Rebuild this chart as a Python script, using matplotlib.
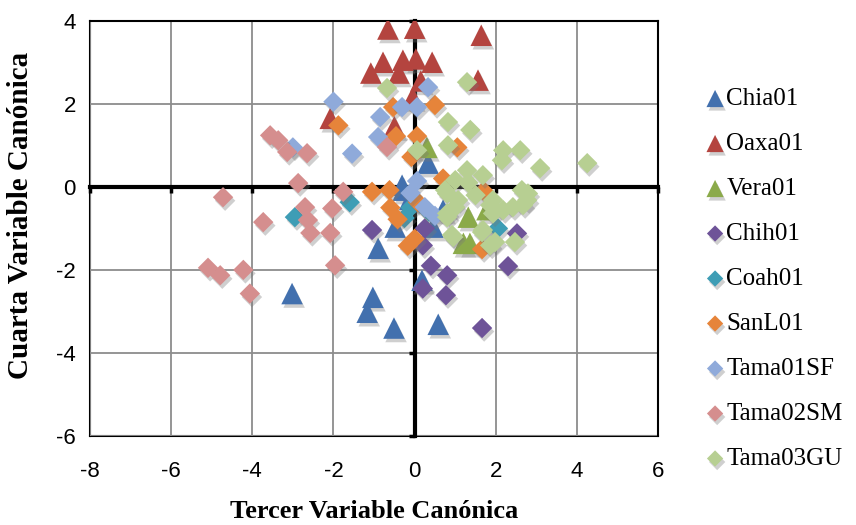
import matplotlib.pyplot as plt
import matplotlib.patheffects as pe

plt.rcParams['axes.unicode_minus'] = False

# canonical scores per population (3rd and 4th canonical variables)
series = ['Chia01', 'Oaxa01', 'Vera01', 'Chih01', 'Coah01', 'SanL01',
          'Tama01SF', 'Tama02SM', 'Tama03GU']

chia_x = [-3.02, -1.03, -1.17, -0.51, -0.9, 0.58, 0.18, -0.28, -0.48, 0.45, 0.33, -0.31, 0.7, -0.12]
chia_y = [-2.57, -2.66, -3.02, -3.4, -1.48, -3.31, -2.25, -0.08, -0.97, -0.97, 0.57, 0.04, -0.56, -0.3]

oaxa_x = [-0.66, 0.0, 1.64, -0.78, -0.29, 0.03, 0.43, -1.08, -0.39, 0.15, 1.56, -2.08, -0.05, -0.5]
oaxa_y = [3.8, 3.82, 3.65, 3.0, 3.05, 3.08, 3.0, 2.74, 2.74, 2.55, 2.57, 1.65, 2.15, 1.45]

vera_x = [0.3, 1.32, 1.36, 1.2, 1.78]
vera_y = [0.95, -0.73, -1.36, -1.36, -0.55]

chih_x = [0.2, 0.4, 0.8, 0.2, 0.77, 1.66, 2.3, 2.52, -1.05, 0.25]
chih_y = [-1.41, -1.9, -2.13, -2.45, -2.61, -3.4, -1.91, -1.12, -1.04, -1.0]

coah_x = [-2.95, -1.6, -0.25, -0.1, 2.05, 0.35]
coah_y = [-0.73, -0.37, -0.75, -0.5, -1.0, -0.6]

sanl_x = [-1.88, -0.53, -0.46, 0.5, 0.06, 1.05, -0.08, 0.7, 1.7, -1.05, -0.62, -0.6,
          -0.42, 0.08, -0.17, 1.66, 0.0]
sanl_y = [1.48, 1.92, 1.22, 1.97, 1.22, 0.95, 0.72, 0.2, -0.1, -0.12, -0.08, -0.5,
          -0.78, -0.37, -1.42, -1.5, -1.25]

t01_x = [-2.0, -1.54, -0.85, -0.31, -0.9, -3.0, 0.33, 0.06, 0.06, 0.25, -0.1, 0.5]
t01_y = [2.05, 0.8, 1.68, 1.92, 1.2, 0.95, 2.4, 1.92, 0.14, -0.49, -0.15, -0.7]

t02_x = [-3.56, -3.36, -3.14, -2.65, -2.87, -4.72, -2.7, -2.03, -1.76, -2.63, -2.57,
         -2.08, -3.73, -5.09, -4.79, -4.22, -4.06, -1.96, -0.68]
t02_y = [1.24, 1.12, 0.84, 0.81, 0.09, -0.25, -0.49, -0.52, -0.12, -0.8, -1.11,
         -1.11, -0.85, -1.95, -2.13, -2.0, -2.57, -1.89, 0.96]

t03_x = [-0.68, 1.29, 0.82, 1.37, 0.82, 0.06, 2.18, 2.6, 2.15, 3.09, 4.25, 1.29, 1.68,
         1.0, 2.64, 2.77, 0.75, 1.07, 1.93, 2.42, 0.8, 1.93, 1.0, 0.92, 1.66, 1.98,
         2.47, 2.67, 2.18, 2.79, 1.86, 0.95, 1.86, 0.8, 0.8, 1.68, 1.32, 1.5]
t03_y = [2.38, 2.52, 1.56, 1.37, 1.0, 0.88, 0.88, 0.88, 0.64, 0.45, 0.57, 0.4, 0.28,
         0.16, -0.08, -0.32, -0.08, -0.32, -0.32, -0.49, -0.64, -0.64, -0.49, -1.16,
         -1.09, -1.33, -1.33, -0.44, -0.56, -0.16, -0.44, -1.21, -1.41, -0.16, -0.73,
         -1.04, 0.1, -0.2]

xs = [chia_x, oaxa_x, vera_x, chih_x, coah_x, sanl_x, t01_x, t02_x, t03_x]
ys = [chia_y, oaxa_y, vera_y, chih_y, coah_y, sanl_y, t01_y, t02_y, t03_y]
markers = ['^', '^', '^', 'D', 'D', 'D', 'D', 'D', 'D']
colors = ['#4270AE', '#B4443F', '#8BAA4A', '#6E5398', '#3E9DB5', '#E6843A',
          '#8FAADA', '#D58E8E', '#B7CF92']

x_ticks = [-8, -6, -4, -2, 0, 2, 4, 6]
y_ticks = [-6, -4, -2, 0, 2, 4]

tick_font = 'Liberation Sans'
serif = 'Liberation Serif'

fig = plt.figure(figsize=(8.56, 5.25), dpi=100)
ax = fig.add_axes([0.105, 0.1695, 0.664, 0.791])
ax.set_xlim(-8, 6)
ax.set_ylim(-6, 4)

ax.set_xticks(x_ticks)
ax.set_yticks(y_ticks)
ax.grid(True, color='#8c8c8c', linewidth=1.3)
ax.set_axisbelow(True)

# axes cross at zero, with outward tick marks
ax.spines['bottom'].set_position(('data', 0))
ax.spines['left'].set_position(('data', 0))
for s in ['bottom', 'left']:
    ax.spines[s].set_linewidth(3)
    ax.spines[s].set_zorder(2.5)
for s in ['top', 'right']:
    ax.spines[s].set_linewidth(1.5)
ax.tick_params(direction='out', length=4, width=2.5, labelbottom=False, labelleft=False)

# tick labels along the outer frame
secx = ax.secondary_xaxis('bottom')
secx.set_xticks(x_ticks)
secx.tick_params(length=0, pad=18, labelsize=16)
secx.spines['bottom'].set_linewidth(1.5)
secy = ax.secondary_yaxis('left')
secy.set_yticks(y_ticks)
secy.tick_params(length=0, pad=10, labelsize=16)
secy.spines['left'].set_linewidth(1.5)
for lab in secx.get_xticklabels() + secy.get_yticklabels():
    lab.set_fontfamily(tick_font)

shadow = [pe.SimplePatchShadow(offset=(1.5, -2.5), shadow_rgbFace='#777777', alpha=0.35),
          pe.Normal()]
for i, name in enumerate(series):
    size = 240 if markers[i] == '^' else 108
    sc = ax.scatter(xs[i], ys[i], s=size, marker=markers[i], color=colors[i],
                    linewidths=0, label=name, zorder=3 + i * 0.1)
    sc.set_path_effects(shadow)

ax.set_xlabel('Tercer Variable Canónica', fontsize=19, fontweight='bold', fontfamily=serif)
ax.set_ylabel('Cuarta Variable Canónica', fontsize=21, fontweight='bold', fontfamily=serif)
ax.xaxis.set_label_coords(0.5, -0.155)
ax.yaxis.set_label_coords(-0.098, 0.53)

leg = ax.legend(loc='upper left', bbox_to_anchor=(0.812, 0.857), bbox_transform=fig.transFigure,
                frameon=False, prop={'family': serif, 'size': 18}, markerscale=0.8,
                handlelength=0.6, handletextpad=0.15, labelspacing=0.9, borderpad=0)

fig.savefig('out.png', dpi=100)
